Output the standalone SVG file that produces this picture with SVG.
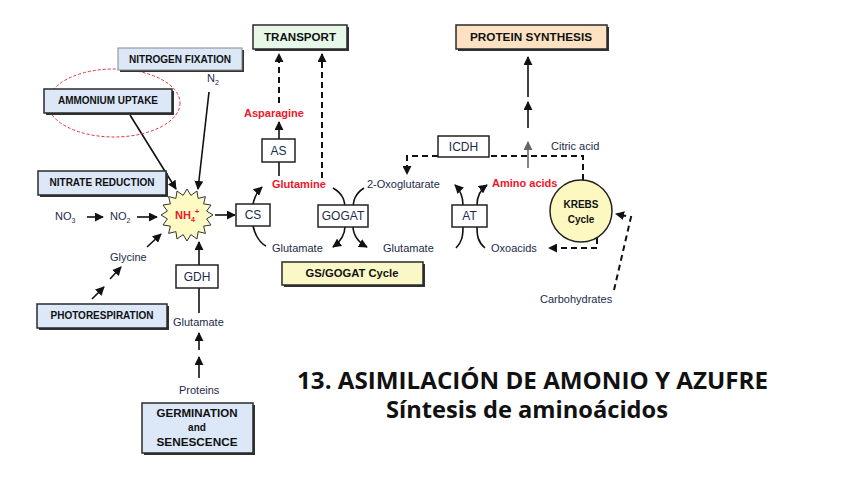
<svg xmlns="http://www.w3.org/2000/svg" width="848" height="477" viewBox="0 0 848 477">
<defs>
<style>
.bx{stroke:#2a2a2a;stroke-width:1.5}
.sh{fill:#333}
.blue{fill:#dce8f8}
.wb{fill:#fff;stroke:#222;stroke-width:1.5}
.bl{font-family:"Liberation Sans",Arial,sans-serif;font-weight:bold;font-size:10px;fill:#111;text-anchor:middle}
.lb{font-family:"Liberation Sans",Arial,sans-serif;font-size:11px;fill:#1c2b4a}
.rd{font-family:"Liberation Sans",Arial,sans-serif;font-size:11px;font-weight:bold;fill:#f0162a}
.sm{font-family:"Liberation Sans",Arial,sans-serif;font-size:12px;fill:#1c2b4a;text-anchor:middle}
.ln{fill:none;stroke:#111;stroke-width:1.6}
.ds{fill:none;stroke:#111;stroke-width:2;stroke-dasharray:6 4}
.ti{font-family:"Open Sans","Liberation Sans",sans-serif;font-weight:bold;fill:#111;text-anchor:start}
</style>
<marker id="ah" viewBox="0 0 10 10" refX="9" refY="5" markerWidth="9" markerHeight="9" markerUnits="userSpaceOnUse" orient="auto"><path d="M0,0 L10,5 L0,10 z" fill="#111"/></marker>
<marker id="ahg" viewBox="0 0 10 10" refX="9" refY="5" markerWidth="9" markerHeight="9" markerUnits="userSpaceOnUse" orient="auto"><path d="M0,0 L10,5 L0,10 z" fill="#666"/></marker>
</defs>
<rect width="848" height="477" fill="#fff"/>

<g id="connectors">
<!-- inputs to NH4 -->
<line class="ln" x1="130" y1="115" x2="176" y2="189" marker-end="url(#ah)"/>
<line class="ln" x1="209" y1="92" x2="198" y2="189" marker-end="url(#ah)"/>
<line class="ln" x1="87" y1="217" x2="103" y2="217" marker-end="url(#ah)"/>
<line class="ln" x1="137" y1="217" x2="157" y2="217" marker-end="url(#ah)"/>
<line class="ln" x1="92" y1="299" x2="104" y2="287" marker-end="url(#ah)"/>
<line class="ln" x1="110" y1="279" x2="121" y2="267" marker-end="url(#ah)"/>
<line class="ln" x1="147" y1="247" x2="161" y2="234" marker-end="url(#ah)"/>
<line class="ln" x1="199" y1="313" x2="199" y2="288"/>
<line class="ln" x1="199" y1="265" x2="199" y2="242" marker-end="url(#ah)"/>
<line class="ln" x1="199" y1="350" x2="199" y2="333" marker-end="url(#ah)"/>
<line class="ln" x1="199" y1="378" x2="199" y2="357" marker-end="url(#ah)"/>
<line class="ln" x1="215" y1="215" x2="235" y2="215" marker-end="url(#ah)"/>
<!-- CS cycle -->
<path class="ln" d="M266,246 C250,238 246,202 262,187" marker-end="url(#ah)"/>
<!-- GOGAT -->
<path class="ln" d="M333,188 C343,194 345,200 345,210 L345,226 C345,236 340,242 333,247" marker-end="url(#ah)"/>
<path class="ln" d="M364,188 C355,194 353,200 353,210 L353,226 C353,236 358,242 367,247" marker-end="url(#ah)"/>
<!-- AT -->
<path class="ln" d="M456,248 C462,242 463,236 463,227 L463,205 C463,196 460,190 455,185" marker-end="url(#ah)"/>
<path class="ln" d="M485,248 C478,242 477,236 477,227 L477,205 C477,196 480,190 487,185" marker-end="url(#ah)"/>
<!-- AS / transport -->
<line class="ln" x1="279" y1="176" x2="279" y2="162"/>
<line class="ln" x1="279" y1="139" x2="279" y2="122" marker-end="url(#ah)"/>
<line class="ds" x1="279" y1="103" x2="279" y2="54" marker-end="url(#ah)"/>
<line class="ds" x1="322" y1="178" x2="322" y2="54" marker-end="url(#ah)"/>
<!-- Krebs dashed -->
<polyline class="ds" points="583,180 583,156 489,156"/>
<polyline class="ds" points="438,156 407,156 407,174" marker-end="url(#ah)"/>
<polyline class="ds" points="597,238 597,248 549,248" marker-end="url(#ah)"/>
<polyline class="ds" points="614,290 631,217 616,214" marker-end="url(#ah)"/>
<!-- protein synthesis -->
<line stroke="#666" stroke-width="1.6" x1="528" y1="168" x2="528" y2="142" marker-end="url(#ahg)"/>
<line class="ln" stroke-width="2" x1="528" y1="128" x2="528" y2="102" marker-end="url(#ah)"/>
<line class="ln" stroke-width="2" x1="528" y1="97" x2="528" y2="57" marker-end="url(#ah)"/>
</g>

<ellipse id="uptake-highlight" cx="114" cy="103" rx="66" ry="34" fill="none" stroke="#e0303a" stroke-width="1" stroke-dasharray="3 2"/>

<g id="nitrogen-fixation">
<rect class="sh" x="120" y="50" width="124" height="22"/>
<rect class="blue" x="118" y="48" width="124" height="22" stroke="#888" stroke-width="1"/>
<text class="bl" x="180" y="63" textLength="102" lengthAdjust="spacingAndGlyphs">NITROGEN FIXATION</text>
</g>
<g id="ammonium-uptake">
<rect class="sh" x="46" y="91" width="128" height="24"/>
<rect class="blue bx" x="44" y="89" width="128" height="24"/>
<text class="bl" x="108" y="104" textLength="100" lengthAdjust="spacingAndGlyphs">AMMONIUM UPTAKE</text>
</g>
<g id="nitrate-reduction">
<rect class="sh" x="40" y="173" width="128" height="24"/>
<rect class="blue bx" x="38" y="171" width="128" height="24"/>
<text class="bl" x="102" y="186" textLength="105" lengthAdjust="spacingAndGlyphs">NITRATE REDUCTION</text>
</g>
<g id="photorespiration">
<rect class="sh" x="39" y="306" width="130" height="24"/>
<rect class="blue bx" x="37" y="304" width="130" height="24"/>
<text class="bl" x="102" y="319" textLength="103" lengthAdjust="spacingAndGlyphs">PHOTORESPIRATION</text>
</g>
<g id="germination">
<rect class="sh" x="144" y="405" width="111" height="50"/>
<rect class="blue bx" x="142" y="403" width="111" height="50"/>
<text class="bl" x="197" y="417" textLength="81" lengthAdjust="spacingAndGlyphs">GERMINATION</text>
<text class="bl" x="197" y="431">and</text>
<text class="bl" x="197" y="446" textLength="81" lengthAdjust="spacingAndGlyphs">SENESCENCE</text>
</g>
<g id="transport">
<rect class="sh" x="255" y="27" width="94" height="24"/>
<rect x="253" y="25" width="94" height="24" fill="#e8f8e8" class="bx"/>
<text class="bl" x="300" y="41" font-size="11" textLength="72" lengthAdjust="spacingAndGlyphs">TRANSPORT</text>
</g>
<g id="protein-synthesis">
<rect class="sh" x="458" y="27" width="151" height="24"/>
<rect x="456" y="25" width="151" height="24" fill="#fce2c2" class="bx"/>
<text class="bl" x="531" y="41" textLength="122" lengthAdjust="spacingAndGlyphs">PROTEIN SYNTHESIS</text>
</g>
<g id="gsgogat-cycle">
<rect class="sh" x="284" y="264" width="141" height="23"/>
<rect x="282" y="262" width="141" height="23" fill="#fbf8c8" class="bx"/>
<text class="bl" x="352" y="277" textLength="93" lengthAdjust="spacingAndGlyphs">GS/GOGAT Cycle</text>
</g>

<g id="nh4">
<polygon points="213,215 206.6,218.9 211,225 203.6,226.1 205.4,233.4 198.1,231.6 197,239 190.9,234.6 187,241 183.1,234.6 177,239 175.9,231.6 168.6,233.4 170.4,226.1 163,225 167.4,218.9 161,215 167.4,211.1 163,205 170.4,203.9 168.6,196.6 175.9,198.4 177,191 183.1,195.4 187,189 190.9,195.4 197,191 198.1,198.4 205.4,196.6 203.6,203.9 211,205 206.6,211.1" fill="#fdfac4" stroke="#333" stroke-width="1"/>
<text class="rd" x="175" y="219" font-size="11">NH<tspan font-size="7" dy="3">4</tspan><tspan font-size="8" dy="-8">+</tspan></text>
</g>

<g id="cs"><rect class="wb" x="236" y="204" width="34" height="22"/><text class="sm" x="253" y="219">CS</text></g>
<g id="gogat"><rect class="wb" x="318" y="205" width="50" height="22"/><text class="sm" x="343" y="220">GOGAT</text></g>
<g id="at"><rect class="wb" x="452" y="205" width="35" height="22"/><text class="sm" x="469.5" y="220">AT</text></g>
<g id="as"><rect class="wb" x="262" y="139" width="33" height="23"/><text class="sm" x="278.5" y="155">AS</text></g>
<g id="icdh"><rect class="wb" x="438" y="136" width="51" height="21"/><text class="sm" x="463.5" y="151">ICDH</text></g>
<g id="gdh"><rect class="wb" x="176" y="265" width="42" height="23"/><text class="sm" x="197" y="281">GDH</text></g>

<g id="krebs">
<circle cx="581" cy="211" r="31" fill="#fcf8c0" stroke="#222" stroke-width="1.5"/>
<text class="bl" x="581" y="208" font-size="11">KREBS</text>
<text class="bl" x="581" y="223" font-size="11">Cycle</text>
</g>

<g id="labels">
<text class="lb" x="207" y="82">N<tspan font-size="7" dy="3">2</tspan></text>
<text class="lb" x="55" y="220">NO<tspan font-size="7" dy="3">3</tspan></text>
<text class="lb" x="110" y="220">NO<tspan font-size="7" dy="3">2</tspan></text>
<text class="lb" x="110" y="261">Glycine</text>
<text class="lb" x="173" y="326">Glutamate</text>
<text class="lb" x="179" y="394">Proteins</text>
<text class="rd" x="244" y="117">Asparagine</text>
<text class="rd" x="272" y="188">Glutamine</text>
<text class="lb" x="367" y="188">2-Oxoglutarate</text>
<text class="lb" x="272" y="252">Glutamate</text>
<text class="lb" x="383" y="252">Glutamate</text>
<text class="rd" x="492" y="187">Amino acids</text>
<text class="lb" x="491" y="252">Oxoacids</text>
<text class="lb" x="551" y="150">Citric acid</text>
<text class="lb" x="540" y="303">Carbohydrates</text>
</g>

<g id="title">
<text class="ti" x="297" y="389" font-size="23" textLength="471" lengthAdjust="spacingAndGlyphs">13. ASIMILACIÓN DE AMONIO Y AZUFRE</text>
<text class="ti" x="386" y="418" font-size="23" textLength="282" lengthAdjust="spacingAndGlyphs">Síntesis de aminoácidos</text>
</g>
</svg>
